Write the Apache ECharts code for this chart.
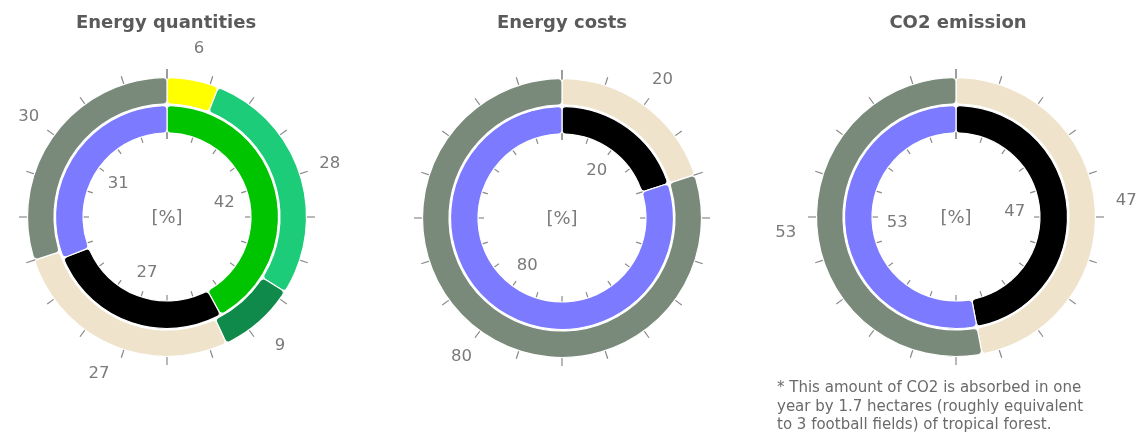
<!DOCTYPE html>
<html>
<head>
<meta charset="utf-8">
<script src="https://cdn.jsdelivr.net/npm/echarts@6/dist/echarts.min.js"></script>
<style>
html,body{margin:0;padding:0;background:#fff;}
#chart{width:1136px;height:441px;}
</style>
</head>
<body>
<div id="chart"></div>
<script>
// ---- data ----
const chartTitles = ['Energy quantities', 'Energy costs', 'CO2 emission'];
const unitLabel = '[%]';

const qtyOuterValues = [6, 28, 9, 27, 30];
const qtyOuterColors = ['#ffff00', '#1ccc78', '#108a4a', '#efe3cc', '#7a8a7a'];
const qtyInnerValues = [42, 27, 31];
const qtyInnerColors = ['#00c400', '#000000', '#7c7aff'];

const costOuterValues = [20, 80];
const costOuterColors = ['#efe3cc', '#7a8a7a'];
const costInnerValues = [20, 80];
const costInnerColors = ['#000000', '#7c7aff'];

const co2OuterValues = [47, 53];
const co2OuterColors = ['#efe3cc', '#7a8a7a'];
const co2InnerValues = [47, 53];
const co2InnerColors = ['#000000', '#7c7aff'];

const footnoteLines = [
  '* This amount of CO2 is absorbed in one',
  'year by 1.7 hectares (roughly equivalent',
  'to 3 football fields) of tropical forest.'
];

// ---- layout ----
const centers = [[167, 217], [562, 218], [956, 217]];
const groups = [
  {outer: qtyOuterValues, outerC: qtyOuterColors, inner: qtyInnerValues, innerC: qtyInnerColors},
  {outer: costOuterValues, outerC: costOuterColors, inner: costInnerValues, innerC: costInnerColors},
  {outer: co2OuterValues, outerC: co2OuterColors, inner: co2InnerValues, innerC: co2InnerColors}
];
const FONT = 'DejaVu Sans';
const labelColor = '#7a7a7a';

function ringData(vals, cols) {
  return vals.map((v, i) => ({value: v, itemStyle: {color: cols[i]}}));
}
function ring(center, radius, vals, cols) {
  return {
    type: 'pie', center: center, radius: radius, startAngle: 90, clockwise: true,
    silent: true, animation: false, z: 3,
    label: {show: false}, labelLine: {show: false},
    itemStyle: {borderColor: '#ffffff', borderWidth: 1.2, borderRadius: 4},
    emphasis: {disabled: true},
    data: ringData(vals, cols)
  };
}
function labelRing(center, radius, vals) {
  return {
    type: 'pie', center: center, radius: radius, startAngle: 90, clockwise: true,
    silent: true, animation: false, z: 4,
    itemStyle: {color: 'rgba(0,0,0,0)'},
    emphasis: {disabled: true},
    label: {show: true, position: 'inside', rotate: 0, formatter: '{c}',
            color: labelColor, fontFamily: FONT, fontSize: 16.5},
    labelLine: {show: false},
    data: vals.map(v => ({value: v}))
  };
}
function ticks(center, radius, len) {
  return {
    type: 'gauge', center: center, radius: radius, startAngle: 90, endAngle: -270,
    min: 0, max: 100, splitNumber: 20, z: 1, silent: true, animation: false,
    axisLine: {show: false, lineStyle: {width: 0}},
    axisTick: {show: false},
    splitLine: {show: true, length: len, distance: 0, lineStyle: {color: '#8a8a8a', width: 1.2}},
    axisLabel: {show: false},
    pointer: {show: false}, anchor: {show: false}, progress: {show: false},
    title: {show: false}, detail: {show: false},
    data: []
  };
}

const titleCenters = [166, 562, 958];
const series = [];
const titles = [];
const graphics = [];
groups.forEach((g, i) => {
  const c = centers[i];
  series.push(ticks(c, 148, 10));
  series.push(ticks(c, 87, 9));
  series.push(ring(c, [113, 139.5], g.outer, g.outerC));
  series.push(ring(c, [84, 111.5], g.inner, g.innerC));
  series.push(labelRing(c, [161, 175], g.outer));
  series.push(labelRing(c, [50, 62], g.inner));
  titles.push({
    text: chartTitles[i], left: titleCenters[i], top: 14, textAlign: 'center', padding: 0,
    textStyle: {fontFamily: FONT, fontSize: 18, fontWeight: 'bold', color: '#5a5a5a'}
  });
  graphics.push({
    type: 'text', x: c[0], y: c[1] + 1, z: 10,
    style: {text: unitLabel, fontFamily: FONT, fontSize: 18, fill: labelColor,
            align: 'center', verticalAlign: 'middle'}
  });
});
graphics.push({
  type: 'text', x: 777, y: 379, z: 10,
  style: {text: footnoteLines.join('\n'), fontFamily: FONT, fontSize: 15, lineHeight: 18.5,
          fill: '#6a6a6a', align: 'left', verticalAlign: 'top'}
});

const chart = echarts.init(document.getElementById('chart'), null, {renderer: 'canvas'});
chart.setOption({
  animation: false,
  backgroundColor: '#ffffff',
  title: titles,
  series: series,
  graphic: graphics
});
</script>
</body>
</html>
